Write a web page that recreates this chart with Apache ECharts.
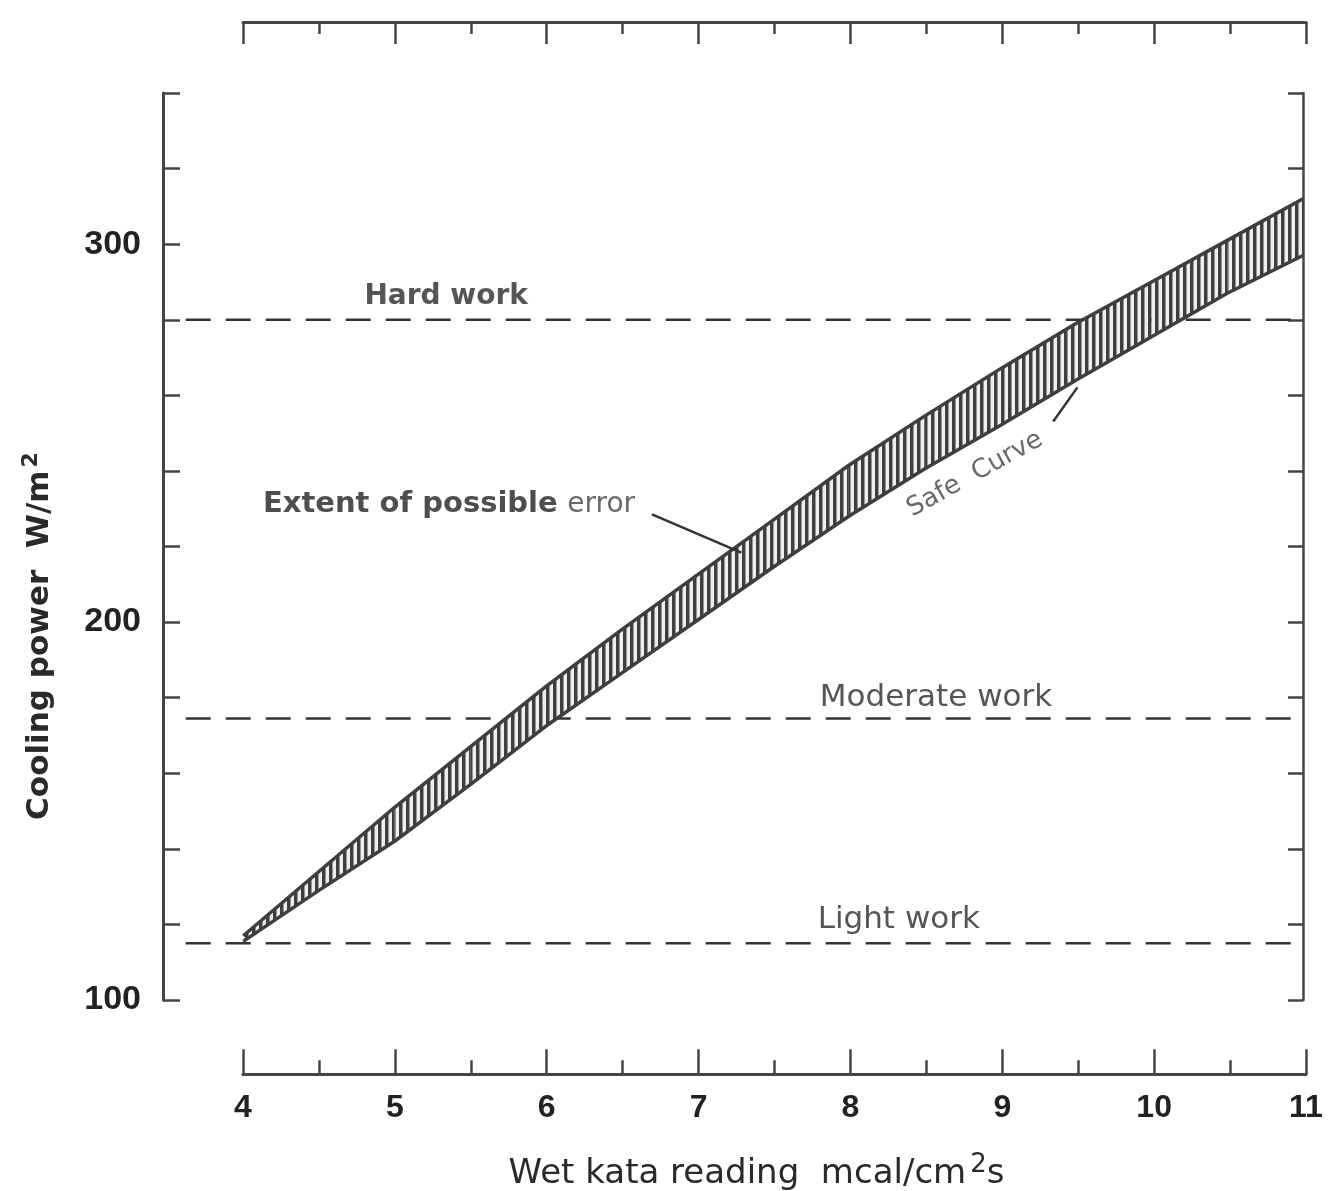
<!DOCTYPE html>
<html>
<head>
<meta charset="utf-8">
<title>Cooling power vs wet kata reading</title>
<script src="https://cdn.jsdelivr.net/npm/echarts@6/dist/echarts.min.js"></script>
<style>
  html, body { margin: 0; padding: 0; background: #fff; }
  #chart { width: 1334px; height: 1191px; }
</style>
</head>
<body>
<div id="chart"></div>
<script>
// wet kata reading, mcal/cm2 s
const kata = [4, 4.5, 5, 5.5, 6, 6.5, 7, 7.5, 8, 8.5, 9, 9.5, 10, 10.5, 11];
// edges of the error band, cooling power W/m2
const bandUpper = [117, 134, 151, 167, 183, 198, 212.5, 227, 241.5, 254.5, 267, 279, 290, 301, 312];
const bandLower = [115.5, 129, 142, 157, 172.5, 186.5, 200.5, 214.5, 228, 240.5, 252, 264, 275.5, 287, 297];

// work levels (dashed lines)
const workNames = ["Hard work", "Moderate work", "Light work"];
const workLevels = [280, 174.5, 115];

const yTickLabels = [100, 200, 300];

const ink = "#333";
const font = "DejaVu Sans";

// vertical hatching for the band
function hatch() {
  const c = document.createElement("canvas");
  c.width = 7;
  c.height = 7;
  const ctx = c.getContext("2d");
  ctx.fillStyle = "#eeeeee";
  ctx.fillRect(0, 0, 7, 7);
  ctx.fillStyle = "#3e3e3e";
  ctx.fillRect(0, 0, 3.5, 7);
  return c;
}
const hatchImg = hatch();

const lowerData = kata.map((x, i) => [x, bandLower[i]]);
const upperData = kata.map((x, i) => [x, bandUpper[i]]);
// one quad per interval between neighbouring readings
const segData = kata.slice(0, -1).map((x, i) => [
  x, bandLower[i], bandUpper[i], kata[i + 1], bandLower[i + 1], bandUpper[i + 1],
]);

const levelSeries = workLevels.map((v, i) => ({
  name: workNames[i],
  type: "line",
  xAxisIndex: 0,
  yAxisIndex: 0,
  symbol: "none",
  z: 1,
  lineStyle: { color: ink, width: 2.5, type: [25, 15] },
  data: [[3.62, v], [11, v]],
}));

// text annotations placed in data space
function note(x, y, text, label) {
  return {
    value: [x, y],
    label: Object.assign(
      {
        show: true,
        position: "inside",
        formatter: text,
        color: "#2a2a2a",
        fontFamily: font,
        fontSize: 30,
      },
      label
    ),
  };
}

const option = {
  backgroundColor: "#fff",
  animation: false,
  grid: [
    { left: 163, right: 31, top: 93, bottom: 191 },
    { left: 243, right: 28, top: 1074, height: 1 },
    { left: 243, right: 28, top: 21, height: 1 },
  ],
  xAxis: [
    { gridIndex: 0, type: "value", min: 3.47, max: 11, show: false },
    {
      gridIndex: 1,
      type: "value",
      min: 4,
      max: 11,
      interval: 1,
      position: "bottom",
      axisLine: { lineStyle: { color: "#444", width: 3 } },
      axisTick: { inside: true, length: 25, lineStyle: { color: "#444", width: 2.5 } },
      minorTick: { show: true, splitNumber: 2, length: 14, lineStyle: { color: "#444", width: 2.5 } },
      splitLine: { show: false },
      axisLabel: {
        margin: 18,
        color: "#222",
        fontFamily: "Liberation Sans Narrow, Liberation Sans",
        fontWeight: "bold",
        fontSize: 32,
      },
      name: "{a|Wet kata reading  mcal/cm}{s|2}{a|s}",
      nameLocation: "middle",
      nameGap: 78,
      nameTextStyle: {
        padding: [0, 36, 0, 0],
        rich: {
          a: { fontFamily: font, fontSize: 34, color: "#2a2a2a", lineHeight: 42 },
          s: { fontFamily: font, fontSize: 26, color: "#2a2a2a", padding: [0, 0, 18, 4] },
        },
      },
    },
    {
      gridIndex: 2,
      type: "value",
      min: 4,
      max: 11,
      interval: 1,
      position: "top",
      axisLine: { lineStyle: { color: "#444", width: 3 } },
      axisTick: { inside: true, length: 22, lineStyle: { color: "#444", width: 2.5 } },
      minorTick: { show: true, splitNumber: 2, length: 12, lineStyle: { color: "#444", width: 2.5 } },
      splitLine: { show: false },
      axisLabel: { show: false },
    },
  ],
  yAxis: [
    {
      gridIndex: 0,
      type: "value",
      min: 100,
      max: 340,
      interval: 20,
      position: "left",
      axisLine: { show: true, lineStyle: { color: "#444", width: 3 } },
      axisTick: { inside: true, length: 17, lineStyle: { color: "#444", width: 2.5 } },
      splitLine: { show: false },
      axisLabel: {
        margin: 22,
        color: "#222",
        fontFamily: "Liberation Sans",
        fontWeight: "bold",
        fontSize: 34,
        formatter: (v) => (yTickLabels.includes(v) ? String(v) : ""),
      },
    },
    {
      gridIndex: 0,
      type: "value",
      min: 100,
      max: 340,
      interval: 20,
      position: "right",
      axisLine: { show: true, lineStyle: { color: "#444", width: 2.5 } },
      axisTick: { inside: true, length: 15, lineStyle: { color: "#444", width: 2.5 } },
      splitLine: { show: false },
      axisLabel: { show: false },
    },
    { gridIndex: 1, type: "value", min: 0, max: 1, show: false },
    { gridIndex: 2, type: "value", min: 0, max: 1, show: false },
  ],
  graphic: [
    {
      type: "text",
      x: 40,
      y: 636,
      rotation: Math.PI / 2,
      style: {
        text: "{a|Cooling power  W/m}{s|2}",
        align: "center",
        verticalAlign: "middle",
        rich: {
          a: { fontFamily: font, fontWeight: "bold", fontSize: 31, fill: "#2a2a2a", lineHeight: 40 },
          s: { fontFamily: font, fontWeight: "bold", fontSize: 22, fill: "#2a2a2a", padding: [0, 0, 18, 3] },
        },
      },
    },
  ],
  series: [
    ...levelSeries,
    {
      name: "Extent of possible error",
      type: "custom",
      xAxisIndex: 0,
      yAxisIndex: 0,
      z: 2,
      encode: { x: [0, 3], y: [1, 2, 4, 5] },
      data: segData,
      renderItem: function (params, api) {
        const pts = [
          api.coord([api.value(0), api.value(1)]),
          api.coord([api.value(3), api.value(4)]),
          api.coord([api.value(3), api.value(5)]),
          api.coord([api.value(0), api.value(2)]),
        ];
        return {
          type: "polygon",
          shape: { points: pts },
          style: { fill: { image: hatchImg, repeat: "repeat" }, stroke: null },
        };
      },
    },
    {
      name: "Safe curve",
      type: "line",
      xAxisIndex: 0,
      yAxisIndex: 0,
      symbol: "none",
      z: 3,
      lineStyle: { color: "#3e3e3e", width: 3.5 },
      data: lowerData,
    },
    {
      name: "Upper limit",
      type: "line",
      xAxisIndex: 0,
      yAxisIndex: 0,
      symbol: "none",
      z: 3,
      lineStyle: { color: "#3e3e3e", width: 3.5 },
      data: upperData,
    },
    {
      type: "line",
      xAxisIndex: 0,
      yAxisIndex: 0,
      symbol: "none",
      z: 4,
      lineStyle: { color: ink, width: 2.5 },
      data: [[6.7, 228.5], [7.29, 218.4]],
    },
    {
      type: "line",
      xAxisIndex: 0,
      yAxisIndex: 0,
      symbol: "none",
      z: 4,
      lineStyle: { color: ink, width: 2.5 },
      data: [[9.35, 253.1], [9.51, 262.1]],
    },
    {
      type: "scatter",
      xAxisIndex: 0,
      yAxisIndex: 0,
      symbolSize: 0,
      z: 5,
      silent: true,
      data: [
        note(5.34, 286, workNames[0], { fontWeight: "bold", fontSize: 28 }),
        note(8.576, 180, workNames[1], { fontSize: 31 }),
        note(8.33, 121.2, workNames[2], { fontSize: 31 }),
        note(4.13, 231.1, "{b|Extent of possible} {r|error}", {
          position: "right",
          distance: 0,
          rich: {
            b: { fontFamily: font, fontWeight: "bold", fontSize: 29, color: "#222" },
            r: { fontFamily: font, fontSize: 28, color: "#444" },
          },
        }),
        note(8.833, 239.1, "Safe  Curve", { fontSize: 26, rotate: 29, color: "#444" }),
      ],
    },
  ],
};

const chart = echarts.init(document.getElementById("chart"));
chart.setOption(option);
window.onresize = function () {
  chart.resize();
};
</script>
</body>
</html>
